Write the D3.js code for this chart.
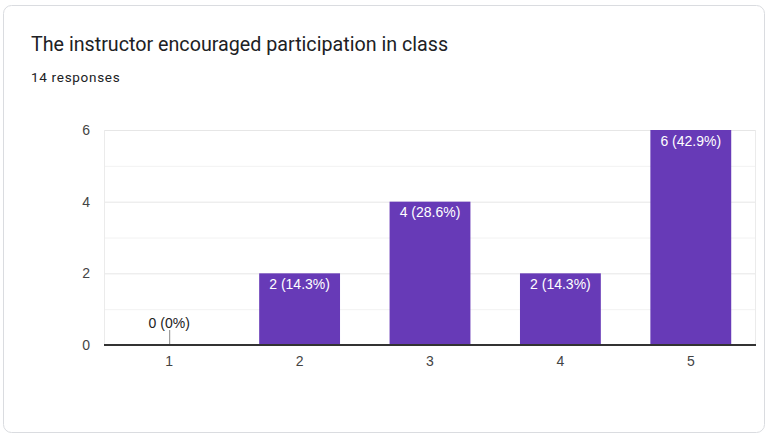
<!DOCTYPE html>
<html>
<head>
<meta charset="utf-8">
<script src="https://cdn.jsdelivr.net/npm/d3@7"></script>
<style>
  html, body { margin: 0; padding: 0; background: #fff; }
  svg { display: block; font-family: Roboto, Arial, sans-serif; }
  .chart-text { font-family: "Liberation Sans", Arial, sans-serif; }
</style>
</head>
<body>
<svg id="chart" width="767" height="435"></svg>
<script>
// Survey answers on a 1–5 scale and how many respondents picked each
const categories = ["1", "2", "3", "4", "5"];
const counts = [0, 2, 4, 2, 6];
const totalResponses = 14;
const yTicks = [0, 2, 4, 6];
const yGridValues = [0, 1, 2, 3, 4, 5, 6];

const svg = d3.select("#chart");

// Card background
svg.append("rect")
  .attr("x", 3.5).attr("y", 5.5)
  .attr("width", 761).attr("height", 427)
  .attr("rx", 8).attr("ry", 8)
  .attr("fill", "#fff")
  .attr("stroke", "#dadce0")
  .attr("stroke-width", 1);

svg.append("text")
  .attr("x", 31).attr("y", 51)
  .attr("fill", "#202124")
  .style("font-size", "19.7px")
  .text("The instructor encouraged participation in class");

svg.append("text")
  .attr("x", 31).attr("y", 82)
  .attr("fill", "#202124")
  .style("font-size", "13.5px")
  .style("letter-spacing", "0.7px")
  .text(totalResponses + " responses");

const plot = { left: 104, right: 756, top: 130, bottom: 345 };

const x = d3.scaleBand()
  .domain(categories)
  .range([plot.left, plot.right])
  .paddingInner(0.38)
  .paddingOuter(0.19);

const y = d3.scaleLinear()
  .domain([0, 6])
  .range([plot.bottom, plot.top]);

// Horizontal gridlines: heavier on labelled values
svg.append("g")
  .selectAll("line")
  .data(yGridValues)
  .join("line")
  .attr("x1", plot.left).attr("x2", plot.right)
  .attr("y1", d => y(d) + 0.5).attr("y2", d => y(d) + 0.5)
  .attr("stroke", d => yTicks.includes(d) ? "#e6e6e6" : "#f2f2f2")
  .attr("stroke-width", 1);

// Side borders of the plot area
svg.append("line")
  .attr("x1", plot.left + 0.5).attr("x2", plot.left + 0.5)
  .attr("y1", plot.top).attr("y2", plot.bottom)
  .attr("stroke", "#ebebeb");
svg.append("line")
  .attr("x1", plot.right - 0.5).attr("x2", plot.right - 0.5)
  .attr("y1", plot.top).attr("y2", plot.bottom)
  .attr("stroke", "#ebebeb");

// Y axis labels
const yAxis = d3.axisLeft(y).tickValues(yTicks).tickFormat(d3.format("d")).tickSize(0).tickPadding(14);
const gy = svg.append("g")
  .attr("transform", `translate(${plot.left},0)`)
  .attr("font-size", null)
  .call(yAxis);
gy.select(".domain").remove();
gy.selectAll("text")
  .attr("class", "chart-text")
  .attr("fill", "#444")
  .style("font-size", "14px");

// Bars
const bars = svg.append("g");
const data = categories.map((c, i) => ({ cat: c, value: counts[i] }));

bars.selectAll("rect")
  .data(data.filter(d => d.value > 0))
  .join("rect")
  .attr("x", d => x(d.cat))
  .attr("y", d => y(d.value))
  .attr("width", x.bandwidth())
  .attr("height", d => y(0) - y(d.value))
  .attr("fill", "#673ab7");

const fmt = d => `${d.value} (${Math.round(d.value / totalResponses * 1000) / 10}%)`;

// Value labels inside the bars
bars.selectAll("text.inside")
  .data(data.filter(d => d.value > 0))
  .join("text")
  .attr("class", "inside chart-text")
  .attr("x", d => x(d.cat) + x.bandwidth() / 2)
  .attr("y", d => y(d.value) + 15.5)
  .attr("text-anchor", "middle")
  .attr("fill", "#fff")
  .style("font-size", "14px")
  .text(fmt);

// Zero-value bars get a short stem and a label above it
const zeros = data.filter(d => d.value === 0);
bars.selectAll("line.stem")
  .data(zeros)
  .join("line")
  .attr("class", "stem")
  .attr("x1", d => x(d.cat) + x.bandwidth() / 2 + 0.5)
  .attr("x2", d => x(d.cat) + x.bandwidth() / 2 + 0.5)
  .attr("y1", y(0) - 15)
  .attr("y2", y(0))
  .attr("stroke", "#888")
  .attr("stroke-width", 1);
bars.selectAll("text.outside")
  .data(zeros)
  .join("text")
  .attr("class", "outside chart-text")
  .attr("x", d => x(d.cat) + x.bandwidth() / 2)
  .attr("y", y(0) - 17)
  .attr("text-anchor", "middle")
  .attr("fill", "#222")
  .style("font-size", "14px")
  .text(fmt);

// Baseline and category labels
const xAxis = d3.axisBottom(x).tickSize(0).tickPadding(11);
const gx = svg.append("g")
  .attr("transform", `translate(0,${plot.bottom})`)
  .call(xAxis);
gx.select(".domain")
  .attr("stroke", "#333")
  .attr("stroke-width", 2)
  .attr("d", `M${plot.left},0H${plot.right}`);
gx.selectAll("text")
  .attr("class", "chart-text")
  .attr("fill", "#444")
  .style("font-size", "14px");
</script>
</body>
</html>
